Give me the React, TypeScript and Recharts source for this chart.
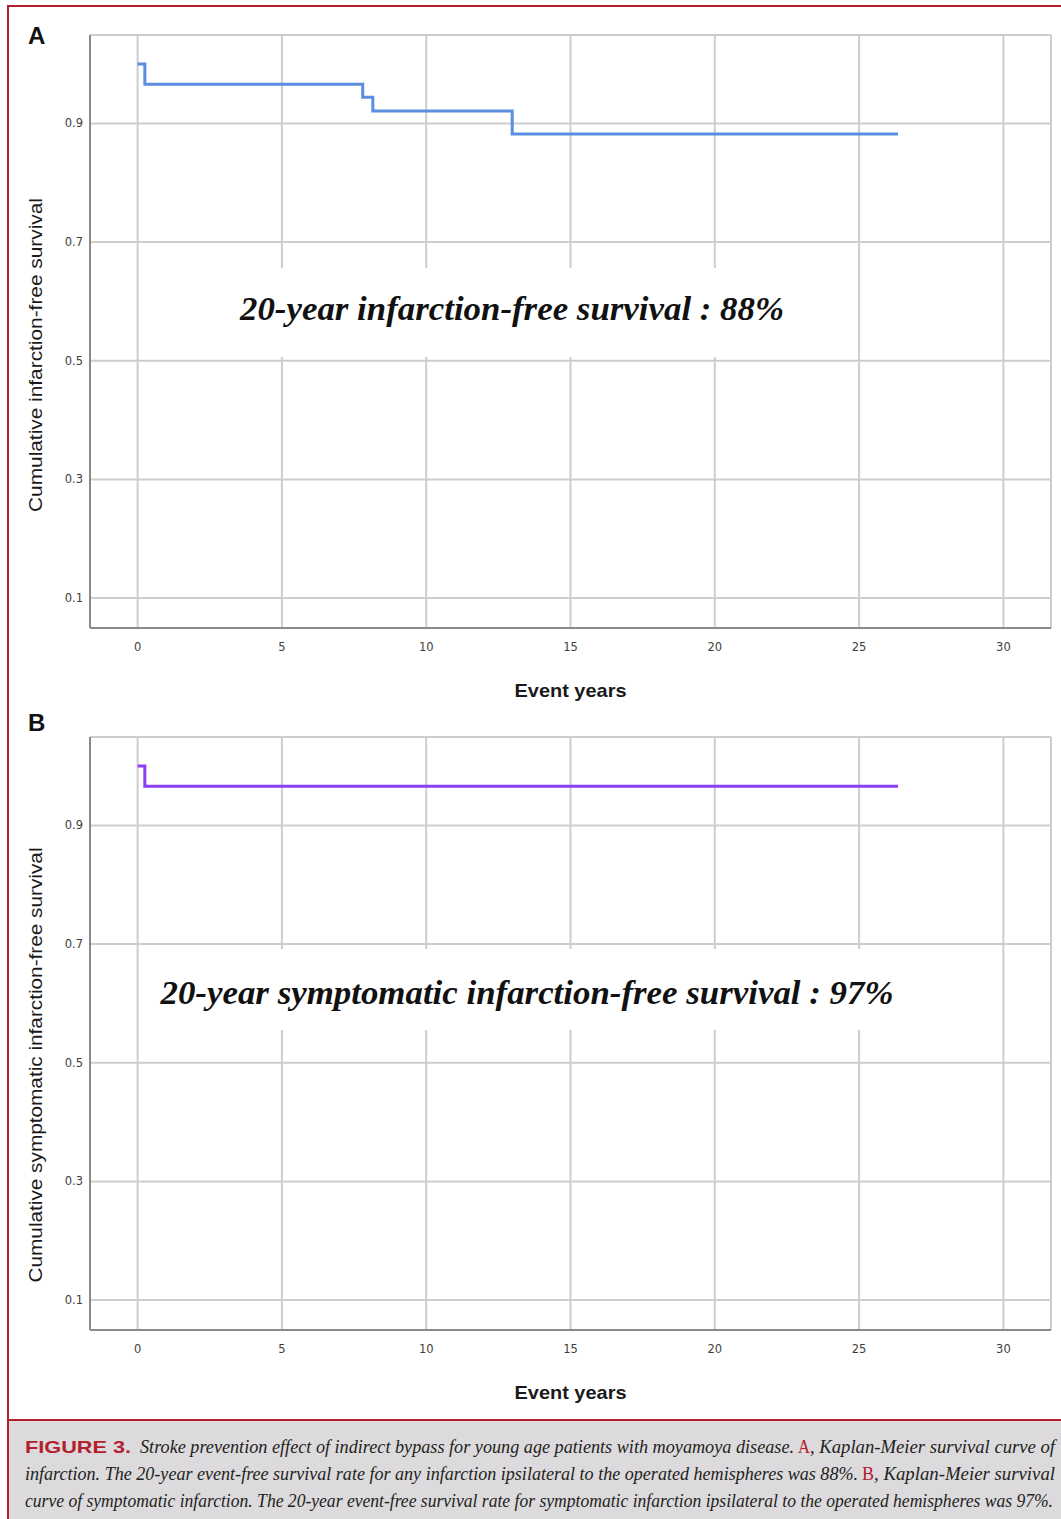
import React from 'react';
import { LineChart, Line, XAxis, YAxis, CartesianGrid, Label } from 'recharts';

// Kaplan-Meier step data (years, cumulative survival)
const yearsA = [0, 0.25, 7.8, 8.15, 12.98, 26.35];
const survivalA = [1.0, 0.966, 0.944, 0.921, 0.882, 0.882];
const yearsB = [0, 0.25, 26.35];
const survivalB = [1.0, 0.966, 0.966];

const xTicks = [0, 5, 10, 15, 20, 25, 30];
const yTicks = [0.1, 0.3, 0.5, 0.7, 0.9];
const xDomain: [number, number] = [-1.65, 31.65];
const yDomain: [number, number] = [0.0495, 1.049];

const xTitle = 'Event years';
const yTitleA = 'Cumulative infarction-free survival';
const yTitleB = 'Cumulative symptomatic infarction-free survival';
const noteA = '20-year infarction-free survival : 88%';
const noteB = '20-year symptomatic infarction-free survival : 97%';

const RED = '#b3202c';
const AXIS = '#8a8a8a';
const GRID = '#cdcdcd';
const TICK = { fontSize: 11.5, fill: '#3e3e3e', fontFamily: 'DejaVu Sans' };

type PanelProps = {
  years: number[];
  survival: number[];
  color: string;
  yTitle: string;
  yTitleCenter: number;
  yTitleLength: number;
  height: number;
  top: number;
};

function KMPanel({ years, survival, color, yTitle, yTitleCenter, yTitleLength, height, top }: PanelProps) {
  const data = years.map((t, i) => ({ t, s: survival[i] }));
  const xAxisHeight = height - 35 - 593;
  return (
    <div style={{ position: 'absolute', left: 0, top }}>
      <LineChart width={1061} height={height} data={data} margin={{ top: 35, right: 10, left: 0, bottom: 0 }}>
        <CartesianGrid stroke={GRID} strokeWidth={2} />
        <XAxis
          dataKey="t"
          type="number"
          domain={xDomain}
          ticks={xTicks}
          allowDataOverflow
          height={xAxisHeight}
          tickLine={false}
          tickSize={0}
          tickMargin={15}
          axisLine={{ stroke: AXIS, strokeWidth: 2 }}
          tick={TICK}
        >
          <Label
            content={(p: any) => {
              const vb = p.viewBox || {};
              return (
                <text
                  x={vb.x + vb.width / 2}
                  y={vb.y + 69}
                  textAnchor="middle"
                  fontFamily="Liberation Sans"
                  fontWeight="bold"
                  fontSize={19}
                  fill="#1a1a1a"
                  textLength={112}
                  lengthAdjust="spacingAndGlyphs"
                >
                  {xTitle}
                </text>
              );
            }}
          />
        </XAxis>
        <YAxis
          type="number"
          domain={yDomain}
          ticks={yTicks}
          allowDataOverflow
          width={90}
          tickLine={false}
          tickSize={0}
          tickMargin={7}
          axisLine={{ stroke: AXIS, strokeWidth: 2 }}
          tick={TICK}
          tickFormatter={(v: number) => v.toFixed(1)}
        >
          <Label
            content={(p: any) => {
              const vb = p.viewBox || {};
              const cx = vb.x + 36;
              const cy = vb.y + yTitleCenter;
              return (
                <text
                  x={cx}
                  y={cy + 6}
                  transform={`rotate(-90, ${cx}, ${cy})`}
                  textAnchor="middle"
                  fontFamily="Liberation Sans"
                  fontSize={18}
                  fill="#1a1a1a"
                  textLength={yTitleLength}
                  lengthAdjust="spacingAndGlyphs"
                >
                  {yTitle}
                </text>
              );
            }}
          />
        </YAxis>
        <Line
          type="stepAfter"
          dataKey="s"
          stroke={color}
          strokeWidth={3}
          dot={false}
          activeDot={false}
          isAnimationActive={false}
        />
      </LineChart>
    </div>
  );
}

function CapText({ x, y, len, children, red, size = 16.8 }: { x: number; y: number; len: number; children: React.ReactNode; red?: boolean; size?: number }) {
  return (
    <g transform={`translate(${x}, ${y}) scale(1, 1.13)`}>
      <text
        x={0}
        y={0}
        fontFamily="Liberation Serif"
        fontStyle={red ? 'normal' : 'italic'}
        fontSize={size}
        fill={red ? RED : '#231f20'}
        textLength={len}
        lengthAdjust="spacingAndGlyphs"
      >
        {children}
      </text>
    </g>
  );
}

export default function App() {
  return (
    <div style={{ position: 'absolute', left: 0, top: 0, width: 1061, height: 1519, background: '#ffffff', overflow: 'hidden' }}>
      <KMPanel
        years={yearsA}
        survival={survivalA}
        color="#5b8de2"
        yTitle={yTitleA}
        yTitleCenter={320}
        yTitleLength={314}
        height={702}
        top={0}
      />
      <KMPanel
        years={yearsB}
        survival={survivalB}
        color="#8b3ef2"
        yTitle={yTitleB}
        yTitleCenter={328}
        yTitleLength={435}
        height={718}
        top={702}
      />
      <svg
        width={1061}
        height={1519}
        style={{ position: 'absolute', left: 0, top: 0, pointerEvents: 'none' }}
      >
        {/* figure frame */}
        <rect x={7} y={5} width={1054} height={2} fill={RED} />
        <rect x={7} y={5} width={2} height={1514} fill={RED} />
        {/* panel letters */}
        <text x={28} y={44} fontFamily="Liberation Sans" fontWeight="bold" fontSize={24} fill="#111">A</text>
        <text x={28} y={731} fontFamily="Liberation Sans" fontWeight="bold" fontSize={24} fill="#111">B</text>
        {/* annotations */}
        <rect x={225} y={268} width={578} height={89} fill="#ffffff" />
        <text
          x={512}
          y={320}
          textAnchor="middle"
          fontFamily="Liberation Serif"
          fontStyle="italic"
          fontWeight="bold"
          fontSize={33}
          fill="#111"
          textLength={544}
          lengthAdjust="spacingAndGlyphs"
        >
          {noteA}
        </text>
        <rect x={148} y={949} width={760} height={81} fill="#ffffff" />
        <text
          x={527}
          y={1004}
          textAnchor="middle"
          fontFamily="Liberation Serif"
          fontStyle="italic"
          fontWeight="bold"
          fontSize={33}
          fill="#111"
          textLength={733}
          lengthAdjust="spacingAndGlyphs"
        >
          {noteB}
        </text>
        {/* caption */}
        <rect x={9} y={1420} width={1052} height={99} fill="#dcdadd" />
        <rect x={9} y={1419} width={1052} height={2} fill={RED} />
        <text
          x={25}
          y={1453}
          fontFamily="Liberation Sans"
          fontWeight="bold"
          fontSize={17}
          fill={RED}
          textLength={106}
          lengthAdjust="spacingAndGlyphs"
        >
          FIGURE 3.
        </text>
        <CapText x={140} y={1453} len={654}>
          Stroke prevention effect of indirect bypass for young age patients with moyamoya disease.
        </CapText>
        <CapText x={798} y={1453} len={12} red>A</CapText>
        <CapText x={810} y={1453} len={245}>, Kaplan-Meier survival curve of</CapText>
        <CapText x={25} y={1480} len={833}>
          infarction. The 20-year event-free survival rate for any infarction ipsilateral to the operated hemispheres was 88%.
        </CapText>
        <CapText x={862} y={1480} len={12} red>B</CapText>
        <CapText x={874} y={1480} len={181}>, Kaplan-Meier survival</CapText>
        <CapText x={25} y={1507} len={1028}>
          curve of symptomatic infarction. The 20-year event-free survival rate for symptomatic infarction ipsilateral to the operated hemispheres was 97%.
        </CapText>
      </svg>
    </div>
  );
}
